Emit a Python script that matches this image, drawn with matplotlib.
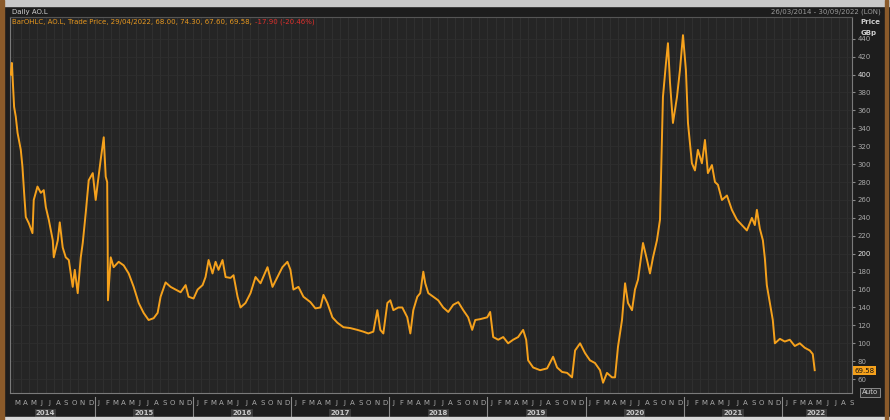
import matplotlib.pyplot as plt
from matplotlib.patches import Rectangle
from matplotlib.lines import Line2D

# AO.L daily trade price (GBp); x in decimal years
years = [2014.145, 2014.156, 2014.166, 2014.179, 2014.196, 2014.214, 2014.247, 2014.264, 2014.281, 2014.298,
         2014.329, 2014.366, 2014.379, 2014.417, 2014.451, 2014.481, 2014.502, 2014.532, 2014.573, 2014.583,
         2014.624, 2014.644, 2014.674, 2014.705, 2014.736, 2014.776, 2014.797, 2014.827, 2014.858, 2014.878,
         2014.908, 2014.939, 2014.980, 2015.010, 2015.031, 2015.061, 2015.092, 2015.112, 2015.127, 2015.132,
         2015.135, 2015.163, 2015.193, 2015.244, 2015.295, 2015.346, 2015.397, 2015.448, 2015.498, 2015.549,
         2015.600, 2015.641, 2015.671, 2015.722, 2015.773, 2015.824, 2015.875, 2015.926, 2015.956, 2016.007,
         2016.048, 2016.099, 2016.129, 2016.160, 2016.200, 2016.231, 2016.261, 2016.302, 2016.333, 2016.383,
         2016.414, 2016.455, 2016.485, 2016.536, 2016.587, 2016.638, 2016.689, 2016.760, 2016.811, 2016.862,
         2016.912, 2016.963, 2016.994, 2017.024, 2017.075, 2017.126, 2017.197, 2017.248, 2017.299, 2017.330,
         2017.370, 2017.421, 2017.472, 2017.533, 2017.604, 2017.675, 2017.737, 2017.787, 2017.838, 2017.879,
         2017.909, 2017.940, 2017.981, 2018.011, 2018.042, 2018.093, 2018.133, 2018.184, 2018.215, 2018.245,
         2018.286, 2018.316, 2018.347, 2018.367, 2018.398, 2018.449, 2018.499, 2018.550, 2018.601, 2018.652,
         2018.703, 2018.754, 2018.804, 2018.845, 2018.876, 2018.927, 2018.998, 2019.028, 2019.059, 2019.110,
         2019.161, 2019.211, 2019.262, 2019.313, 2019.364, 2019.395, 2019.415, 2019.466, 2019.537, 2019.608,
         2019.669, 2019.710, 2019.761, 2019.812, 2019.862, 2019.893, 2019.944, 2019.995, 2020.045, 2020.096,
         2020.147, 2020.178, 2020.218, 2020.269, 2020.300, 2020.330, 2020.371, 2020.402, 2020.432, 2020.473,
         2020.503, 2020.534, 2020.585, 2020.626, 2020.656, 2020.687, 2020.727, 2020.758, 2020.778, 2020.788,
         2020.819, 2020.839, 2020.860, 2020.890, 2020.931, 2020.961, 2020.992, 2021.022, 2021.043, 2021.083,
         2021.114, 2021.144, 2021.185, 2021.216, 2021.246, 2021.287, 2021.318, 2021.348, 2021.389, 2021.440,
         2021.490, 2021.541, 2021.592, 2021.643, 2021.694, 2021.724, 2021.745, 2021.775, 2021.806, 2021.826,
         2021.846, 2021.877, 2021.907, 2021.928, 2021.979, 2022.029, 2022.080, 2022.131, 2022.182, 2022.233,
         2022.284, 2022.314, 2022.334]
price = [400, 413, 391, 364, 353, 335, 316, 297, 268, 241,
         234, 223, 260, 275, 268, 271, 252, 238, 215, 196,
         215, 235, 207, 196, 193, 163, 182, 156, 196, 212,
         245, 282, 290, 260, 279, 305, 330, 286, 280, 212,
         148, 196, 185, 191, 187, 178, 163, 145, 134, 126,
         128, 134, 152, 168, 163, 160, 157, 165, 152, 150,
         160, 165, 174, 193, 178, 191, 182, 193, 174, 173,
         176, 152, 140, 145, 156, 174, 167, 185, 163, 174,
         185, 191, 182, 160, 163, 152, 146, 139, 140, 154,
         145, 129, 123, 118, 117, 115, 113, 111, 113, 137,
         115, 111, 145, 148, 137, 140, 140, 129, 111, 137,
         152, 156, 180, 167, 156, 152, 148, 140, 135, 143,
         146, 137, 129, 115, 126, 127, 129, 135, 107, 104,
         107, 100, 104, 107, 115, 104, 81, 73, 70, 72,
         85, 73, 68, 67, 62, 92, 100, 89, 81, 78,
         70, 56, 67, 62, 62, 96, 126, 167, 145, 137,
         160, 171, 212, 193, 178, 196, 215, 238, 330, 375,
         413, 435, 391, 346, 375, 405, 444, 405, 346, 301,
         293, 316, 301, 327, 290, 299, 280, 277, 260, 265,
         249, 238, 232, 226, 240, 232, 249, 228, 215, 195,
         165, 145, 126, 100, 105, 102, 104, 97, 100, 95,
         92, 88, 70]

month_letters = list("JFMAMJJASOND")
year_labels = [2014, 2015, 2016, 2017, 2018, 2019, 2020, 2021, 2022]
price_ticks = list(range(60, 460, 20))
last_price = "69.58"

bg = '#1d1d1d'
panel = '#252525'
grid = '#323232'
orange = '#f5a11c'
txt = '#a9a9a9'

fig = plt.figure(figsize=(8.9, 4.2), dpi=100, facecolor=bg)
ax = fig.add_axes([0.011, 0.064, 0.946, 0.896])
ax.set_facecolor(panel)
x0, x1 = 2014.135, 2022.711
ax.set_xlim(x0, x1)
ax.set_ylim(44.4, 464.5)

# month grid + horizontal grid
for y in year_labels:
    for m in range(12):
        t = y + m / 12
        if x0 < t < x1:
            ax.axvline(t, color=grid, lw=0.6, zorder=0)
for p in price_ticks:
    ax.axhline(p, color='#2e2e2e', lw=0.6, zorder=0)

ax.plot(years, price, color=orange, lw=1.4, solid_joinstyle='round', zorder=3)

for s in ax.spines.values():
    s.set_color('#7a7a7a')
    s.set_linewidth(0.8)
ax.spines['top'].set_color('#555555')

# right price axis
ax.yaxis.tick_right()
ax.set_yticks(price_ticks)
ax.set_yticklabels([str(p) for p in price_ticks])
ax.tick_params(axis='y', colors='#8a8a8a', labelcolor=txt, labelsize=5, length=2, pad=2)
for lab in ax.get_yticklabels():
    if lab.get_text() in ('200', '400'):
        lab.set_color('#e6e6e6')

# month letters and year labels
ax.set_xticks([])
for y in year_labels:
    for m in range(12):
        t = y + (m + 0.5) / 12
        if x0 < t < x1:
            ax.text(t, -0.025, month_letters[m], transform=ax.get_xaxis_transform(),
                    ha='center', va='center', fontsize=5, color=txt, clip_on=False)
    ax.text(y + 0.5 if y < 2022 else 2022.35, -0.053, str(y), transform=ax.get_xaxis_transform(),
            ha='center', va='center', fontsize=5, color='#c8c8c8', fontweight='bold', clip_on=False,
            bbox=dict(boxstyle='square,pad=0.15', fc='#3a3a3a', ec='none'))
    if y > 2014:
        ax.add_line(Line2D([y, y], [-0.01, -0.075], transform=ax.get_xaxis_transform(),
                           color='#8a8a8a', lw=0.8, clip_on=False))

# header area
fig.patches.append(Rectangle((0, 0.985), 1, 0.015, transform=fig.transFigure, color='#c9c9c9'))
fig.patches.append(Rectangle((0, 0.0), 1, 0.008, transform=fig.transFigure, color='#d8d8d8'))
fig.patches.append(Rectangle((0, 0), 0.004, 1, transform=fig.transFigure, color='#8a5a2a'))
fig.patches.append(Rectangle((0.994, 0), 0.004, 1, transform=fig.transFigure, color='#8a5a2a'))
fig.text(0.014, 0.972, "Daily AO.L", fontsize=5, color='#d0d0d0', va='center')
fig.text(0.990, 0.972, "26/03/2014 - 30/09/2022 (LON)", fontsize=5, color='#9a9a9a', va='center', ha='right')
fig.text(0.014, 0.948, "BarOHLC, AO.L, Trade Price, 29/04/2022, 68.00, 74.30, 67.60, 69.58, ",
         fontsize=5, color='#e8981e', va='center')
fig.text(0.286, 0.948, "-17.90 (-20.46%)", fontsize=5, color='#e0302c', va='center')
fig.text(0.967, 0.947, "Price", fontsize=5, color='#d0d0d0', va='center', fontweight='bold')
fig.text(0.967, 0.921, "GBp", fontsize=5, color='#d0d0d0', va='center', fontweight='bold')

# last price flag and Auto button
ax.text(1.003, 69.58, last_price, transform=ax.get_yaxis_transform(), fontsize=5, color='#111111',
        va='center', ha='left', clip_on=False,
        bbox=dict(boxstyle='square,pad=0.25', fc='#f5a11c', ec='none'))
fig.text(0.968, 0.066, "Auto", fontsize=5, color='#d0d0d0', va='center',
         bbox=dict(boxstyle='square,pad=0.25', fc='#2a2a2a', ec='#9a9a9a', lw=0.6))

fig.savefig('out.png', dpi=100, facecolor=bg)
